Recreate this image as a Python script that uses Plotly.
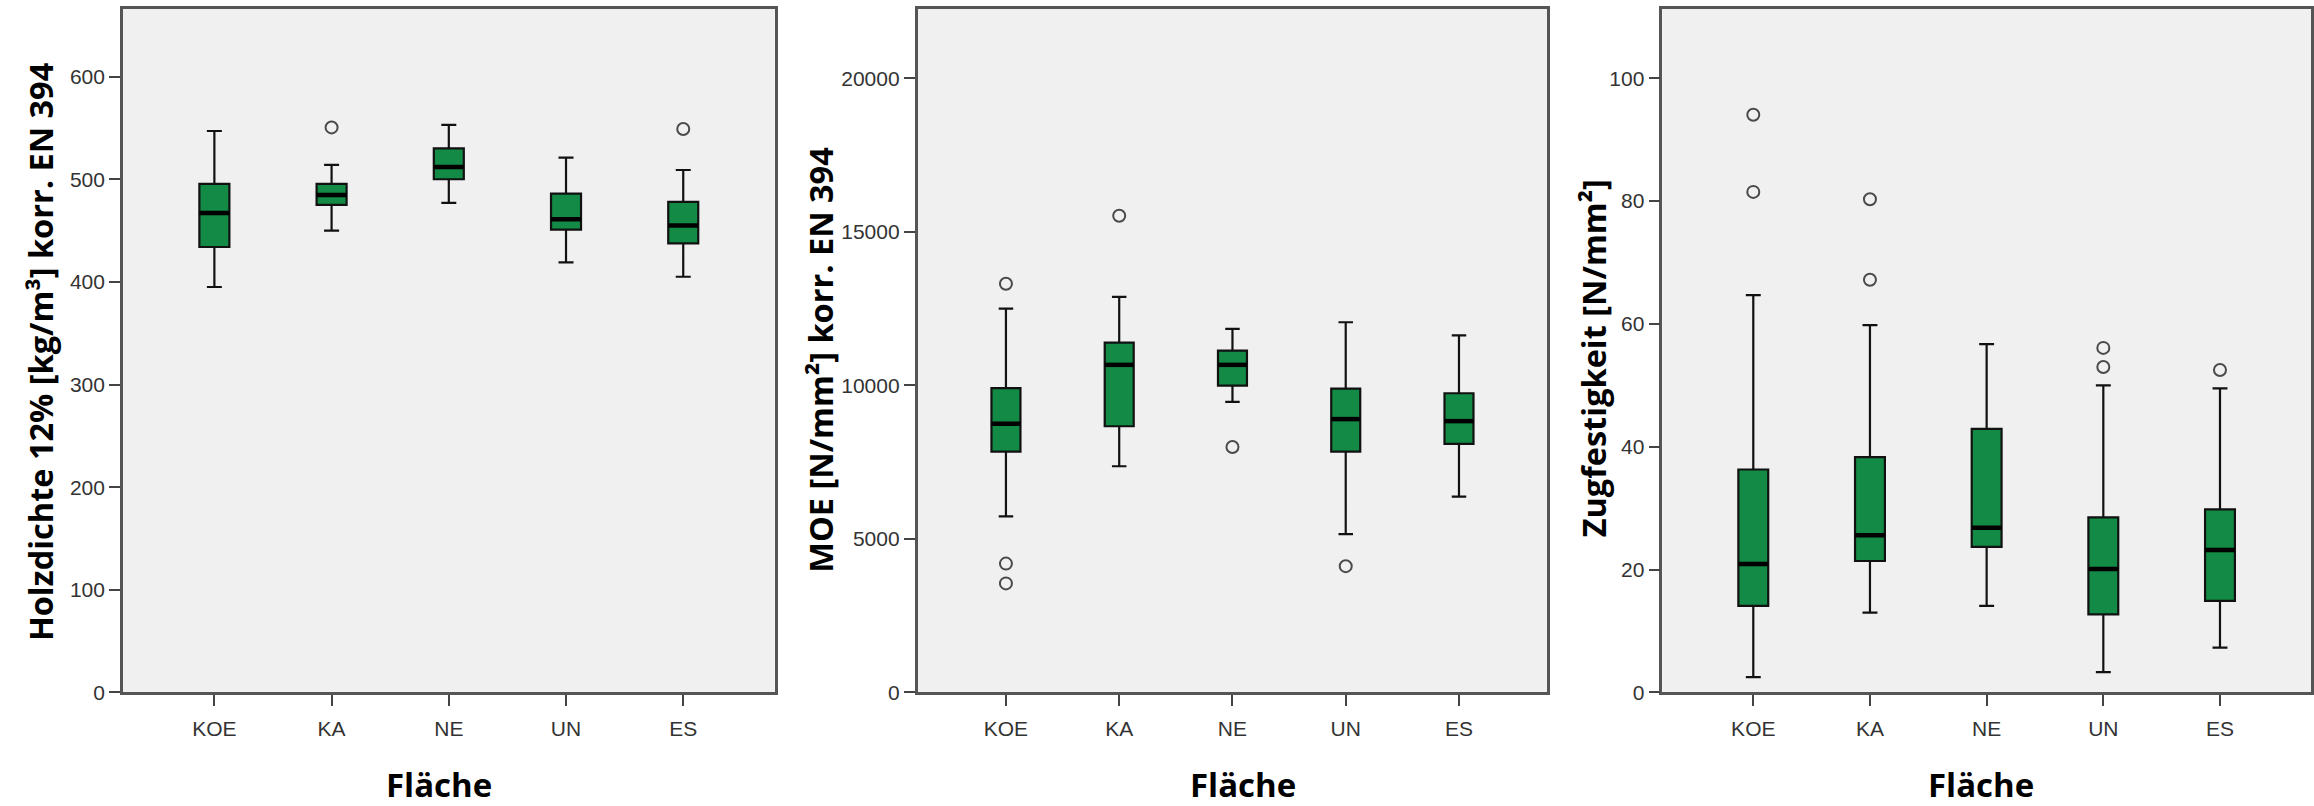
import plotly.graph_objects as go

W, H = 2314, 806

categories = ["KOE", "KA", "NE", "UN", "ES"]

# Panel 1: Holzdichte 12% [kg/m³] korr. EN 394
dens_lower = [395, 450, 477, 419, 405]
dens_q1 = [434, 475, 500, 451, 437.5]
dens_median = [467, 484.6, 512, 461, 455]
dens_q3 = [495.5, 495.5, 530, 486, 478]
dens_upper = [547, 514, 553, 521, 509]
dens_out_cat = [1, 4]
dens_out_val = [550.5, 549]

# Panel 2: MOE [N/mm²] korr. EN 394
moe_lower = [5731, 7366, 9463, 5153, 6375]
moe_q1 = [7845, 8670, 9992, 7845, 8093]
moe_median = [8753, 10669, 10669, 8902, 8836]
moe_q3 = [9909, 11395, 11131, 9893, 9744]
moe_upper = [12502, 12882, 11842, 12056, 11627]
moe_out_cat = [0, 0, 0, 1, 2, 3]
moe_out_val = [13311, 4195, 3551, 15524, 7993, 4112]

# Panel 3: Zugfestigkeit [N/mm²]
zug_lower = [2.5, 13.0, 14.1, 3.3, 7.3]
zug_q1 = [14.1, 21.4, 23.7, 12.7, 14.9]
zug_median = [20.9, 25.6, 26.8, 20.1, 23.2]
zug_q3 = [36.3, 38.3, 42.9, 28.5, 29.8]
zug_upper = [64.7, 59.8, 56.7, 50.0, 49.5]
zug_out_cat = [0, 0, 1, 1, 3, 3, 4]
zug_out_val = [94.05, 81.5, 80.3, 67.2, 56.1, 53.0, 52.5]

y_titles = ["Holzdichte 12% [kg/m³] korr. EN 394", "MOE [N/mm²] korr. EN 394", "Zugfestigkeit [N/mm²]"]
x_title = "Fläche"
y_ranges = [[0, 666], [0, 22263], [0, 111.3]]
y_ticks = [[0, 100, 200, 300, 400, 500, 600], [0, 5000, 10000, 15000, 20000], [0, 20, 40, 60, 80, 100]]

panels = [
    (dens_lower, dens_q1, dens_median, dens_q3, dens_upper, dens_out_cat, dens_out_val),
    (moe_lower, moe_q1, moe_median, moe_q3, moe_upper, moe_out_cat, moe_out_val),
    (zug_lower, zug_q1, zug_median, zug_q3, zug_upper, zug_out_cat, zug_out_val),
]

# layout geometry (pixels)
frames = [(123, 775), (918, 1548), (1663, 2312)]
top_px, bottom_px = 9, 702
x_title_cx = [439, 1244, 1982]
y_title_cx = [40, 820, 1594]
y_title_cy = [356, 365, 363]

GREEN = "#138a45"
BOXW = 0.256
fig = go.Figure()
idx = list(range(len(categories)))

for p, (lo, q1, med, q3, up, oc, ov) in enumerate(panels):
    xa = "x" if p == 0 else f"x{p+1}"
    ya = "y" if p == 0 else f"y{p+1}"
    fig.add_trace(go.Box(
        x=idx, q1=q1, median=med, q3=q3, lowerfence=lo, upperfence=up,
        width=BOXW, whiskerwidth=0.5, boxpoints=False,
        fillcolor=GREEN, line=dict(color="#111111", width=2.2),
        xaxis=xa, yaxis=ya, showlegend=False, hoverinfo="skip",
    ))
    mx, my = [], []
    for i, m in zip(idx, med):
        mx += [i - BOXW / 2, i + BOXW / 2, None]
        my += [m, m, None]
    fig.add_trace(go.Scatter(
        x=mx, y=my, mode="lines", line=dict(color="#000000", width=4.5),
        xaxis=xa, yaxis=ya, showlegend=False, hoverinfo="skip",
    ))
    fig.add_trace(go.Scatter(
        x=oc, y=ov, mode="markers",
        marker=dict(symbol="circle-open", size=12, color="#4a4a4a", line=dict(width=2, color="#4a4a4a")),
        xaxis=xa, yaxis=ya, showlegend=False, hoverinfo="skip",
    ))

tickfont = dict(family="Liberation Sans, Arial, sans-serif", size=21, color="#333333")
ydom = [1 - bottom_px / H, 1 - top_px / H]
layout = dict(
    width=W, height=H, margin=dict(l=0, r=0, t=0, b=0),
    paper_bgcolor="white", plot_bgcolor="#f0f0f0",
    showlegend=False,
)
annotations = []
for p in range(3):
    sx = "" if p == 0 else str(p + 1)
    l, r = frames[p]
    layout[f"xaxis{sx}"] = dict(
        domain=[l / W, r / W], range=[-0.78, 4.78],
        tickmode="array", tickvals=idx, ticktext=categories,
        ticks="outside", ticklen=11, tickwidth=2, tickcolor="#444444",
        showline=True, mirror=True, linecolor="#555555", linewidth=2.5,
        showgrid=False, zeroline=False, tickfont=tickfont,
        ticklabelstandoff=5,
        anchor="y" + sx,
    )
    layout[f"yaxis{sx}"] = dict(
        domain=ydom, range=y_ranges[p],
        tickmode="array", tickvals=y_ticks[p], tickformat="d",
        ticks="outside", ticklen=11, tickwidth=2, tickcolor="#444444",
        showline=True, mirror=True, linecolor="#555555", linewidth=2.5,
        showgrid=False, zeroline=False, tickfont=tickfont,
        anchor="x" + sx,
    )
    annotations.append(dict(
        text=x_title, xref="paper", yref="paper",
        x=x_title_cx[p] / W, y=1 - 795 / H, xanchor="center", yanchor="middle",
        showarrow=False, font=dict(family="Open Sans", size=33, color="#000000", weight="bold"),
    ))
    annotations.append(dict(
        text=y_titles[p], xref="paper", yref="paper", textangle=-90,
        x=y_title_cx[p] / W, y=1 - y_title_cy[p] / H, xanchor="center", yanchor="middle",
        showarrow=False, font=dict(family="Open Sans", size=32.5, color="#000000", weight="bold"),
    ))
layout["annotations"] = annotations
fig.update_layout(**layout)

fig.write_html("out.html")
